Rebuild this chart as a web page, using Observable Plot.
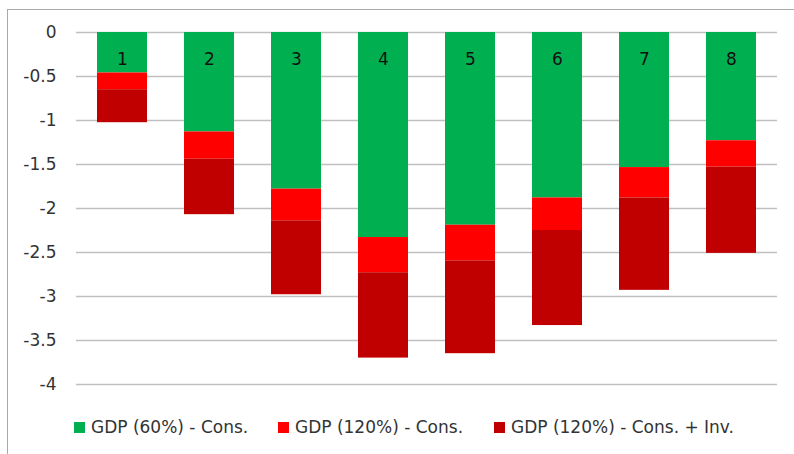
<!DOCTYPE html>
<html>
<head>
<meta charset="utf-8">
<script src="https://cdn.jsdelivr.net/npm/d3@7"></script>
<script src="https://cdn.jsdelivr.net/npm/@observablehq/plot@0.6"></script>
<style>
  html, body { margin: 0; padding: 0; background: #fff; }
  body { width: 794px; height: 454px; position: relative; overflow: hidden; font-family: "DejaVu Sans", sans-serif; }
  #frame { position: absolute; left: 7px; top: 9px; width: 820px; height: 480px; border-top: 1.5px solid #aaaaaa; border-left: 1.5px solid #aaaaaa; box-sizing: border-box; }
  #chart { position: absolute; left: 0; top: 0; }
  #chart svg text { font-size: 17px; font-family: "DejaVu Sans", sans-serif; }
  #legend { position: absolute; left: 0; top: 414px; width: 794px; height: 26px; font-size: 17px; color: #333; }
  .item { position: absolute; top: 0; display: flex; align-items: center; height: 26px; white-space: nowrap; }
  .sw { width: 11px; height: 11px; margin-right: 6px; }
</style>
</head>
<body>
<div id="frame"></div>
<div id="chart"></div>
<div id="legend"></div>
<script>
const categories = ["1", "2", "3", "4", "5", "6", "7", "8"];
const seriesNames = ["GDP (60%) - Cons.", "GDP (120%) - Cons.", "GDP (120%) - Cons. + Inv."];
const seriesColors = ["#00b050", "#ff0000", "#c00000"];
const gdp60Cons = [-0.46, -1.13, -1.78, -2.33, -2.19, -1.88, -1.535, -1.23];
const gdp120Cons = [-0.19, -0.31, -0.36, -0.40, -0.405, -0.37, -0.345, -0.30];
const gdp120ConsInv = [-0.375, -0.63, -0.84, -0.97, -1.055, -1.08, -1.05, -0.98];
const yTicks = [0, -0.5, -1, -1.5, -2, -2.5, -3, -3.5, -4];

const seriesValues = [gdp60Cons, gdp120Cons, gdp120ConsInv];
const data = [];
seriesNames.forEach((s, i) => {
  categories.forEach((c, j) => data.push({ cat: c, series: s, value: seriesValues[i][j] }));
});

const chart = Plot.plot({
  width: 794,
  height: 400,
  marginLeft: 76,
  marginRight: 17,
  marginTop: 32,
  marginBottom: 16,
  style: { fontFamily: "'DejaVu Sans', sans-serif", fontSize: "17px", background: "transparent", overflow: "visible" },
  x: { domain: categories, paddingInner: 0.43, paddingOuter: 0.225, axis: null },
  y: { domain: [-4, 0], axis: null },
  color: { domain: seriesNames, range: seriesColors },
  marks: [
    Plot.ruleY(yTicks, { stroke: "#c0c0c0", strokeWidth: 1.5 }),
    Plot.barY(data, { x: "cat", y: "value", fill: "series", order: seriesNames }),
    Plot.text(categories, { x: d => d, y: () => 0, dy: 27, text: d => d, fill: "#111", fontSize: 17 }),
    Plot.axisY({ ticks: yTicks, tickFormat: d => String(d), tickSize: 0, tickPadding: 20, fill: "#333", fontSize: 17, label: null })
  ]
});
document.getElementById("chart").appendChild(chart);

const legend = document.getElementById("legend");
const lefts = [74, 278, 494];
seriesNames.forEach((s, i) => {
  const it = document.createElement("div");
  it.className = "item";
  it.style.left = lefts[i] + "px";
  const sw = document.createElement("div");
  sw.className = "sw";
  sw.style.background = seriesColors[i];
  it.appendChild(sw);
  const t = document.createElement("span");
  t.textContent = s;
  it.appendChild(t);
  legend.appendChild(it);
});
</script>
</body>
</html>
